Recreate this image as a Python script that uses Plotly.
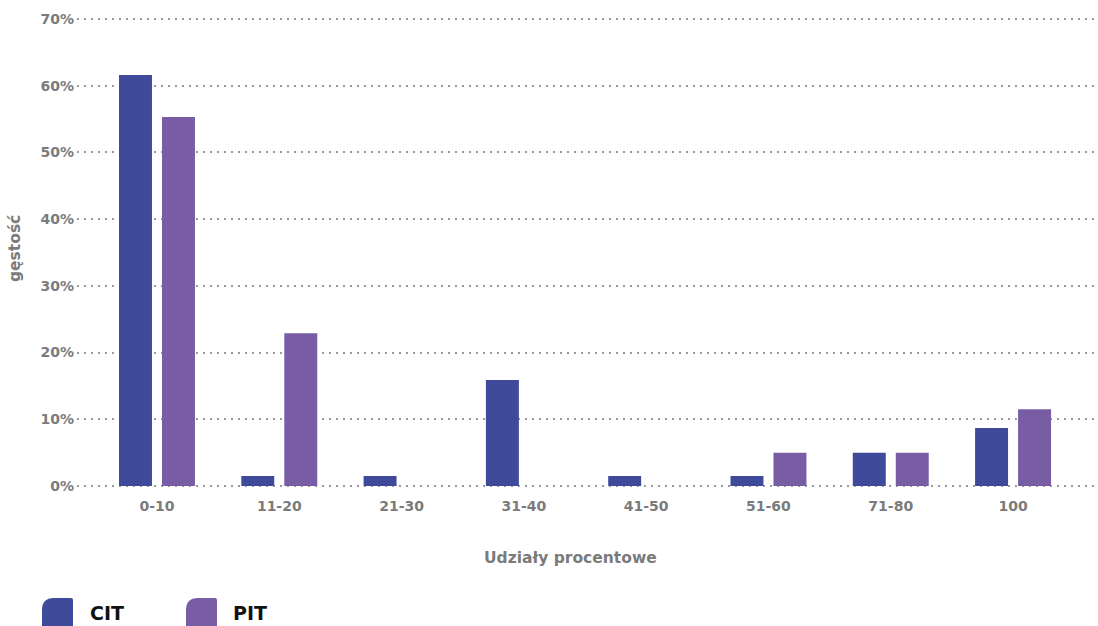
import plotly.graph_objects as go

# Shares of ownership (percent buckets) and density for each tax group
categories = ["0-10", "11-20", "21-30", "31-40", "41-50", "51-60", "71-80", "100"]
cit_values = [61.6, 1.5, 1.5, 15.9, 1.5, 1.5, 5.0, 8.7]
pit_values = [55.3, 22.9, 0, 0, 0, 5.0, 5.0, 11.5]
y_ticks = [0, 10, 20, 30, 40, 50, 60, 70]
y_tick_labels = [f"{v}%" for v in y_ticks]

CIT_COLOR = "#3F4B9A"
PIT_COLOR = "#785DA5"
GRAY = "#7b7b7b"
FONT = "DejaVu Sans"

W, H = 1098, 626
M_L, M_R, M_T, M_B = 77, 3, 16, 137
PLOT_W = W - M_L - M_R
PLOT_H = H - M_T - M_B
# small padding so the 0% and 70% gridlines sit inside the plot area
Y_PAD = 3 * 70 / (PLOT_H - 6)


def px_x(px):
    return (px - M_L) / PLOT_W


def px_y(py):
    return (H - M_B - py) / PLOT_H


fig = go.Figure()
fig.add_trace(go.Bar(x=categories, y=cit_values, name="CIT",
                     marker=dict(color=CIT_COLOR, line=dict(width=0)),
                     showlegend=False))
fig.add_trace(go.Bar(x=categories, y=pit_values, name="PIT",
                     marker=dict(color=PIT_COLOR, line=dict(width=0)),
                     showlegend=False))

# Custom legend: leaf-shaped swatches with bold labels
shapes = []
annotations = []
for x0, label, color, tx in [(42, "CIT", CIT_COLOR, 90), (186, "PIT", PIT_COLOR, 233)]:
    x1 = x0 + 31
    top, bottom = 598, 640
    r = 12
    path = (
        f"M {px_x(x0)},{px_y(bottom)} "
        f"L {px_x(x0)},{px_y(top + r)} "
        f"Q {px_x(x0)},{px_y(top)} {px_x(x0 + r)},{px_y(top)} "
        f"L {px_x(x1 - 2)},{px_y(top)} "
        f"Q {px_x(x1)},{px_y(top)} {px_x(x1)},{px_y(top + 2)} "
        f"L {px_x(x1)},{px_y(bottom - r)} "
        f"Q {px_x(x1)},{px_y(bottom)} {px_x(x1 - r)},{px_y(bottom)} Z"
    )
    shapes.append(dict(type="path", xref="paper", yref="paper", path=path,
                       fillcolor=color, line=dict(width=0), layer="above"))
    annotations.append(dict(xref="paper", yref="paper", x=px_x(tx - 2), y=px_y(613),
                            xanchor="left", yanchor="middle", showarrow=False,
                            text=label,
                            font=dict(family=FONT, size=19, color="#111111", weight=700)))

# Axis titles
annotations.append(dict(xref="paper", yref="paper", x=px_x(570), y=px_y(558),
                        xanchor="center", yanchor="middle", showarrow=False,
                        text="Udziały procentowe",
                        font=dict(family=FONT, size=15.5, color=GRAY, weight=700)))
annotations.append(dict(xref="paper", yref="paper", x=px_x(15), y=px_y(249),
                        xanchor="center", yanchor="middle", showarrow=False,
                        text="gęstość", textangle=-90,
                        font=dict(family=FONT, size=15.5, color=GRAY, weight=700)))

fig.update_layout(
    width=W, height=H,
    margin=dict(l=M_L, r=M_R, t=M_T, b=M_B, pad=0),
    paper_bgcolor="white", plot_bgcolor="white",
    barmode="group", bargap=0.297, bargroupgap=0.233,
    shapes=shapes, annotations=annotations,
    font=dict(family=FONT),
)
fig.update_xaxes(
    type="category", range=[-0.654, 7.67],
    showgrid=False, zeroline=False, showline=False, ticks="",
    tickfont=dict(family=FONT, size=14, color=GRAY, weight=700),
    ticklabelstandoff=7,
)
fig.update_yaxes(
    range=[-Y_PAD, 70 + Y_PAD], tickvals=y_ticks, ticktext=y_tick_labels,
    showgrid=True, gridcolor="#9a9a9a", gridwidth=2, griddash="2px,5px",
    zeroline=False, showline=False, ticks="",
    tickfont=dict(family=FONT, size=14, color=GRAY, weight=700),
    ticklabelstandoff=2,
)

fig.write_html("out.html")
